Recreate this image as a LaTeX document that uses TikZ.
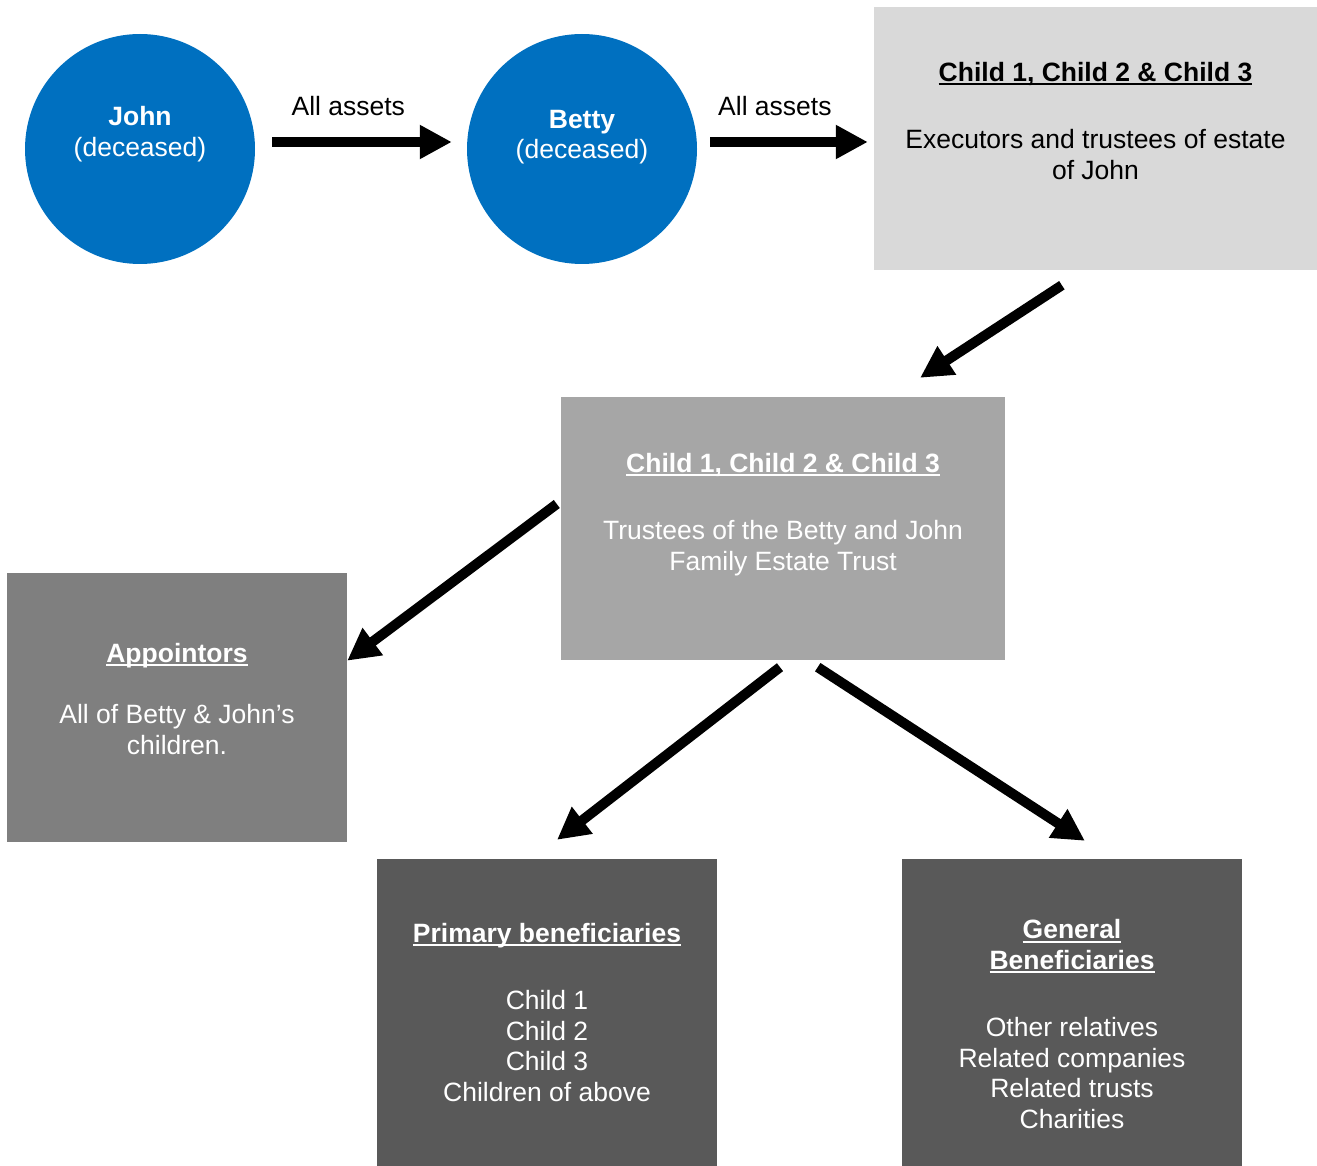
\documentclass[tikz,border=0pt]{standalone}
\usepackage{fontspec}
\setmainfont{Liberation Sans}
\usetikzlibrary{arrows.meta}

\definecolor{deceasedblue}{HTML}{0070C0}
\definecolor{execgrey}{HTML}{D9D9D9}
\definecolor{trustgrey}{HTML}{A6A6A6}
\definecolor{appointgrey}{HTML}{7F7F7F}
\definecolor{benefgrey}{HTML}{595959}

\newcommand{\boxtitle}[1]{\setbox0\hbox{\textbf{#1}}\rlap{\rule[-4pt]{\wd0}{2.2pt}}\box0}

\begin{document}
\begin{tikzpicture}[
  x=1pt, y=-1pt,
  font=\fontsize{26.5}{30.5}\selectfont,
  pnode/.style={circle,fill=deceasedblue,text=white,minimum size=230pt,inner sep=0pt,align=center},
  bnode/.style={rectangle,inner sep=0pt,align=center},
  fat/.style={line width=10pt,-{Triangle[length=32pt,width=32pt]}}
]
  \useasboundingbox (0,0) rectangle (1317,1166);

  % people
  \node[pnode,text depth=35pt] (john) at (140,149) {\textbf{John}\\(deceased)};
  \node[pnode,text depth=29pt] (betty) at (582,149) {\textbf{Betty}\\(deceased)};

  % trustees
  \node[bnode,fill=execgrey,minimum width=443pt,minimum height=263pt,text depth=36pt] (exec) at (1095.5,138.5)
    {\boxtitle{Child 1, Child 2 \& Child 3}\\[37pt]Executors and trustees of estate\\of John};
  \node[bnode,fill=trustgrey,text=white,minimum width=444pt,minimum height=263pt,text depth=34pt] (trust) at (783,528.5)
    {\boxtitle{Child 1, Child 2 \& Child 3}\\[37pt]Trustees of the Betty and John\\Family Estate Trust};

  % appointors and beneficiaries
  \node[bnode,fill=appointgrey,text=white,minimum width=340pt,minimum height=269pt,text depth=18pt] (appoint) at (177,707.5)
    {\boxtitle{Appointors}\\[31pt]All of Betty \& John’s\\children.};
  \node[bnode,fill=benefgrey,text=white,minimum width=340pt,minimum height=307pt] (primary) at (547,1012.5)
    {\boxtitle{Primary beneficiaries}\\[37pt]Child 1\\Child 2\\Child 3\\Children of above};
  \node[bnode,fill=benefgrey,text=white,minimum width=340pt,minimum height=307pt,text height=232pt] (general) at (1072,1012.5)
    {\boxtitle{General}\\\boxtitle{Beneficiaries}\\[37pt]Other relatives\\Related companies\\Related trusts\\Charities};

  % arrows
  \draw[fat,shorten <=17pt,shorten >=15pt] ([yshift=7pt]john.east)
    -- node[pos=0.44,above=21.5pt,inner sep=0pt] (assets1) {All assets} ([yshift=7pt]betty.west);
  \draw[fat,shorten <=13pt,shorten >=6pt] ([yshift=7pt]betty.east)
    -- node[pos=0.44,above=21.5pt,inner sep=0pt] (assets2) {All assets} ([yshift=-3.5pt]exec.west);
  \draw[fat,shorten <=27.5pt,shorten >=34.7pt] ([xshift=-10.6pt]exec.south) -- ([xshift=108pt]trust.north);
  \draw[fat,shorten <=5pt] ([yshift=27.5pt]trust.west) -- ([yshift=46.8pt]appoint.east);
  \draw[fat,shorten <=11.4pt,shorten >=31pt] ([xshift=6pt]trust.south) -- ([xshift=-14.5pt]primary.north);
  \draw[fat,shorten <=12.8pt,shorten >=33pt] ([xshift=24pt]trust.south) -- ([xshift=40.6pt]general.north);
\end{tikzpicture}
\end{document}
